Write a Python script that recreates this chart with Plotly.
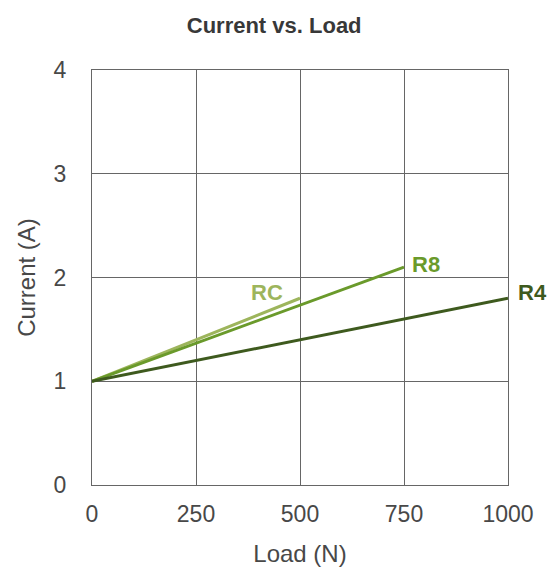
import plotly.graph_objects as go

load_rc = [0, 500]
current_rc = [1.0, 1.8]
load_r8 = [0, 750]
current_r8 = [1.0, 2.1]
load_r4 = [0, 1000]
current_r4 = [1.0, 1.8]

FONT = "Liberation Sans, Arial, sans-serif"

series = [
    # name, x, y, color, label anchor, xshift, yshift
    ("RC", load_rc, current_rc, "#9db55c", "center", -33, 6),
    ("R8", load_r8, current_r8, "#6a9a2b", "left", 6, 3),
    ("R4", load_r4, current_r4, "#3e5a1e", "left", 8, 6),
]

fig = go.Figure()
for name, xs, ys, color, *_ in series:
    fig.add_trace(go.Scatter(x=xs, y=ys, mode="lines", name=name,
                             line=dict(color=color, width=3), showlegend=False,
                             cliponaxis=False))

for name, xs, ys, color, anchor, dx, dy in series:
    fig.add_annotation(x=xs[-1], y=ys[-1], text=f"<b>{name}</b>", showarrow=False,
                       font=dict(color=color, size=22, family=FONT),
                       xanchor=anchor, yanchor="middle", xshift=dx, yshift=dy)

axis_common = dict(showgrid=True, gridcolor="#666666", gridwidth=1,
                   showline=True, linecolor="#666666", linewidth=1, mirror=True,
                   zeroline=False, ticks="",
                   tickfont=dict(size=23, color="#484848", family=FONT),
                   title_font=dict(size=24, color="#484848", family=FONT))

fig.update_xaxes(range=[0, 1000], tickvals=[0, 250, 500, 750, 1000],
                 title_text="Load (N)", title_standoff=19, ticklabelstandoff=8,
                 **axis_common)
fig.update_yaxes(range=[0, 4], tickvals=[0, 1, 2, 3, 4],
                 title_text="Current (A)", title_standoff=11, ticklabelstandoff=20,
                 **axis_common)

fig.update_layout(
    width=558, height=568,
    margin=dict(l=84, r=58, t=62, b=91),
    paper_bgcolor="white", plot_bgcolor="white",
    title=dict(text="<b>Current vs. Load</b>", x=0.477, xanchor="center",
               y=0.970, yanchor="middle",
               font=dict(size=22, color="#383838", family=FONT)),
)

fig.write_html("out.html")
